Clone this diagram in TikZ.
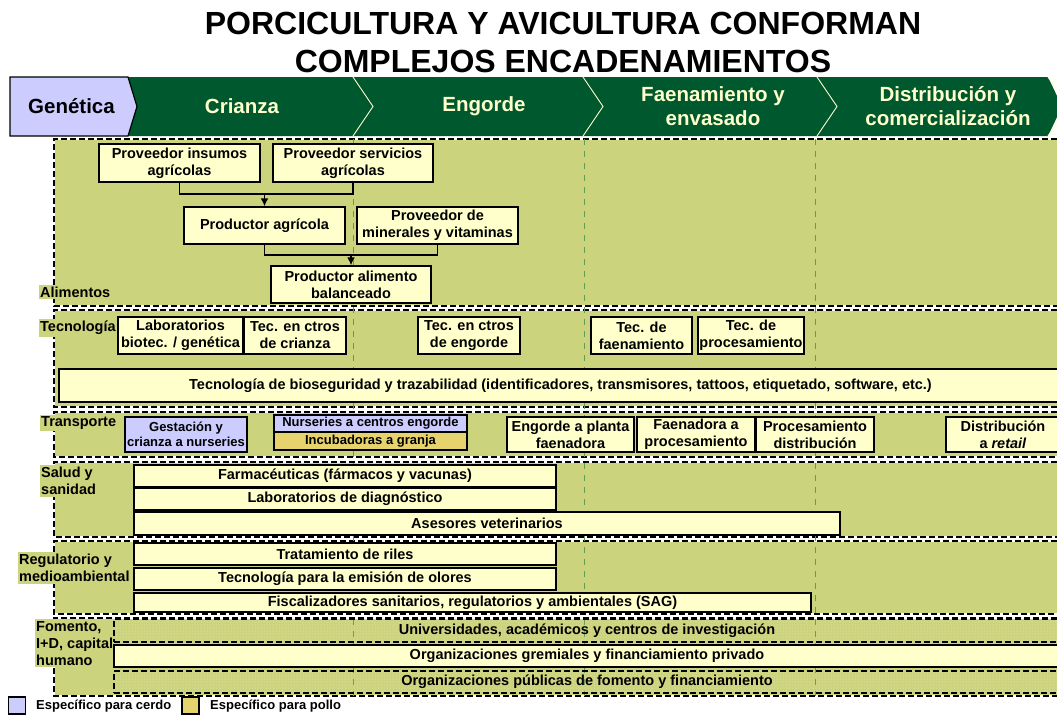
\documentclass[tikz,border=0pt]{standalone}
\usepackage{fontspec}
\setmainfont{Liberation Sans}
\usetikzlibrary{arrows.meta,patterns}
\definecolor{verdeosc}{RGB}{0,88,46}
\definecolor{verdezona}{RGB}{204,211,125}
\definecolor{cremita}{RGB}{255,255,204}
\definecolor{lila}{RGB}{204,204,255}
\definecolor{oro}{RGB}{230,211,110}
\definecolor{verdeguia}{RGB}{100,155,85}

% franja de fondo con borde punteado (arriba, izquierda, abajo)
\newcommand{\franja}[2]{%
	\fill[verdezona] (54,#1) rectangle (1057,#2);
	\draw[white,line width=1.4] (1057,#1) -| (54,#2) -- (1057,#2);
	\draw[borde] (1057,#1) -| (54,#2) -- (1057,#2);
}

\begin{document}
\begin{tikzpicture}[x=1pt,y=-1pt]
	\tikzset{
		caja/.style={
			draw=black,
			line width=1.5,
			fill=cremita,
			align=center,
			inner sep=0pt,
			font=\bfseries\fontsize{14.5}{17}\selectfont
		},
		tam/.style 2 args={minimum width=#1,minimum height=#2},
		chica/.style={font=\bfseries\fontsize{13}{15}\selectfont},
		punteada/.style={draw=black,line width=1.4,dash pattern=on 6 off 3,
			pattern=dots,pattern color=white!55!verdezona,
			align=center,inner sep=0pt,font=\bfseries\fontsize{14.5}{17}\selectfont},
		etiqueta/.style={fill=verdezona,inner xsep=1,inner ysep=2,align=left,
			font=\bfseries\fontsize{14.5}{17}\selectfont},
		etapa/.style={text=cremita,align=center,font=\bfseries\fontsize{20.5}{24}\selectfont},
		sep/.style={draw=cremita,line width=0.9},
		borde/.style={draw=black,line width=1.4,dash pattern=on 6 off 3},
		guia/.style={draw=verdeguia,line width=1,dash pattern=on 6 off 6},
		flecha/.style={draw=black,line width=1.5},
		leyenda/.style={font=\bfseries\fontsize{13}{15}\selectfont,anchor=west,inner sep=0pt}
	}
	\useasboundingbox (0,0) rectangle (1057,715);
	\clip (0,0) rectangle (1057,715);

	% titulo
	\node[align=center,font=\bfseries\fontsize{32}{38}\selectfont] (titulo) at (563,42)
		{PORCICULTURA Y AVICULTURA CONFORMAN\\COMPLEJOS ENCADENAMIENTOS};

	% barra de etapas
	\fill[verdeosc] (128,77) -- (1048,77) -- (1062,106.5) -- (1048,136) -- (128,136) -- (137,106.5) -- cycle;
	\foreach \xs in {353,583,817,1048}
		\draw[sep] (\xs,77) -- ++(20,29.5) -- ++(-20,29.5);
	\draw[line width=1.2,fill=lila] (10,77) -- (128,77) -- (137,106.5) -- (128,136) -- (10,136) -- cycle;
	\node[etapa,text=black] (gen) at (71.5,106.5) {Genética};
	\node[etapa] (cri) at (242,106.5) {Crianza};
	\node[etapa] (eng) at (484,106.5) {Engorde};
	\node[etapa] (fae) at (713,106.5) {Faenamiento y\\envasado};
	\node[etapa] (dis) at (948,106.5) {Distribución y\\comercialización};

	% franjas
	\franja{139}{306}
	\franja{310}{407}
	\franja{412}{457}
	\franja{462}{537}
	\franja{541}{614}
	\franja{618}{696}
	\foreach \xv in {353,584,815}
		\draw[guia] (\xv,139) -- (\xv,696);

	% etiquetas de franja
	\node[etiqueta,anchor=west] (lalim) at (39,292) {Alimentos};
	\node[etiqueta,anchor=west] (ltec) at (39,328) {Tecnología};
	\node[etiqueta,anchor=west] (ltra) at (40,423) {Transporte};
	\node[etiqueta,anchor=north west] (lsal) at (40,465) {Salud y\\sanidad};
	\node[etiqueta,anchor=west] (lreg) at (18,568) {Regulatorio y\\medioambiental};
	\node[etiqueta,anchor=north west] (lfom) at (35,619) {Fomento,\\I+D, capital\\humano};

	% alimentos
	\node[caja,tam={161}{38}] (pins) at (179.5,163) {Proveedor insumos\\agrícolas};
	\node[caja,tam={160}{38}] (pser) at (353,163) {Proveedor servicios\\agrícolas};
	\node[caja,tam={161}{37}] (pagr) at (264.5,225.5) {Productor agrícola};
	\node[caja,tam={161}{37}] (pmin) at (437.5,225.5) {Proveedor de\\minerales y vitaminas};
	\node[caja,tam={160}{37}] (palb) at (351,284.5) {Productor alimento\\balanceado};
	\coordinate (j1) at (264.5,194);
	\coordinate (j2) at (351,255);
	\draw[flecha] (pins.south) |- (j1) -| (pser.south);
	\draw[flecha,-{Latex[length=8,width=8]}] (j1) -- (pagr);
	\draw[flecha] (pagr.south) |- (j2) -| (pmin.south);
	\draw[flecha,-{Latex[length=8,width=8]}] (j2) -- (palb);

	% tecnologia
	\node[caja,tam={125}{37}] (tlab) at (180.5,335.5) {Laboratorios\\biotec. / genética};
	\node[caja,tam={102}{37}] (tcri) at (295,335.5) {Tec. en ctros\\de crianza};
	\node[caja,tam={102}{37}] (teng) at (469,335.5) {Tec. en ctros\\de engorde};
	\node[caja,tam={101}{37}] (tfae) at (641.5,335.5) {Tec. de\\faenamiento};
	\node[caja,tam={106}{37}] (tpro) at (751,335.5) {Tec. de\\procesamiento};
	\node[caja,tam={1003}{33}] (tbio) at (560.5,385.5)
		{Tecnología de bioseguridad y trazabilidad (identificadores, transmisores, tattoos, etiquetado, software, etc.)};

	% transporte
	\node[caja,chica,fill=lila,tam={122}{35}] (rges) at (186,434.5) {Gestación y\\crianza a nurseries};
	\node[caja,chica,fill=lila,tam={193}{17}] (rnur) at (370.5,423.5) {Nurseries a centros engorde};
	\node[caja,chica,fill=oro,tam={193}{18}] (rinc) at (370.5,441) {Incubadoras a granja};
	\node[caja,tam={127}{35}] (reng) at (570.5,434.5) {Engorde a planta\\faenadora};
	\node[caja,tam={118}{35}] (rfae) at (696,434.5) {Faenadora a\\procesamiento};
	\node[caja,tam={118}{35}] (rpro) at (815,434.5) {Procesamiento\\distribución};
	\node[caja,tam={114}{35}] (rdis) at (1003,434.5) {Distribución\\a \textit{retail}};

	% salud y sanidad
	\node[caja,tam={422}{22}] (sfar) at (345,476) {Farmacéuticas (fármacos y vacunas)};
	\node[caja,tam={422}{22}] (slab) at (345,499) {Laboratorios de diagnóstico};
	\node[caja,tam={706}{23}] (sase) at (487,523.5) {Asesores veterinarios};

	% regulatorio
	\node[caja,tam={422}{22}] (gtra) at (345,554) {Tratamiento de riles};
	\node[caja,tam={422}{22}] (golo) at (345,579) {Tecnología para la emisión de olores};
	\node[caja,tam={677}{19}] (gfis) at (472.5,602.5) {Fiscalizadores sanitarios, regulatorios y ambientales (SAG)};

	% fomento
	\node[punteada,tam={946}{23}] (funi) at (587,630.5) {Universidades, académicos y centros de investigación};
	\node[caja,tam={946}{22}] (fgre) at (587,656) {Organizaciones gremiales y financiamiento privado};
	\node[punteada,tam={946}{22}] (fpub) at (587,682) {Organizaciones públicas de fomento y financiamiento};

	% leyenda
	\node[draw,line width=1.2,fill=lila,minimum size=17,inner sep=0pt] (lcer) at (17,705.5) {};
	\node[leyenda] (tcer) at (36,706) {Específico para cerdo};
	\node[draw,line width=1.2,fill=oro,minimum size=17,inner sep=0pt] (lpol) at (190.5,705.5) {};
	\node[leyenda] (tpol) at (210,706) {Específico para pollo};
\end{tikzpicture}
\end{document}
